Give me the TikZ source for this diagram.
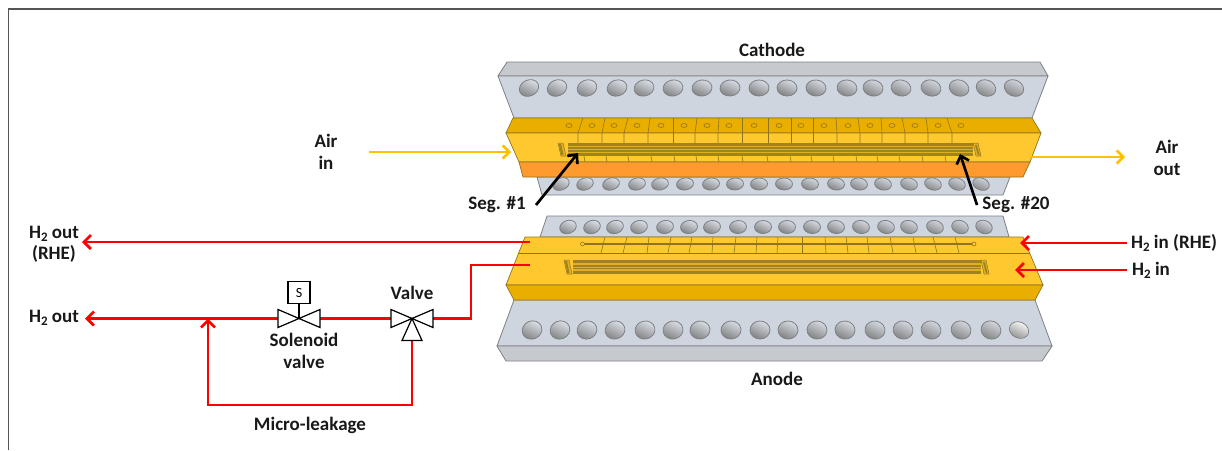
\documentclass[tikz,border=0pt]{standalone}
\usepackage{fontspec}
\setmainfont{Carlito}
\usetikzlibrary{arrows.meta,calc}
\definecolor{grayface}{HTML}{CFD5DF}
\definecolor{graytop}{HTML}{C6C9CE}
\definecolor{grayedge}{HTML}{7E8084}
\definecolor{goldlight}{HTML}{FFC82E}
\definecolor{golddark}{HTML}{EAAE00}
\definecolor{orangeface}{HTML}{FF9A2E}
\definecolor{goldedge}{HTML}{8F7420}
\definecolor{channeldark}{HTML}{A0821F}
\definecolor{channellight}{HTML}{E0B024}
\definecolor{airline}{HTML}{FFC000}
\definecolor{frameline}{HTML}{555555}
\newcommand{\HH}{H{\fontsize{13}{13}\selectfont\raisebox{-3pt}{2}}}
\newcommand{\holerow}[4]{%
  \foreach \hx in {#1} {%
    \pgfmathsetmacro{\hang}{(775-\hx)/10}%
    \shade[left color=grayface!80!white,right color=black!50,shading angle=-25,rotate around={\hang:(\hx,#2)}]
      (\hx,#2) ellipse [x radius=#3,y radius=#4];
    \draw[grayedge,line width=.8pt,rotate around={\hang:(\hx,#2)}]
      (\hx,#2) ellipse [x radius=#3,y radius=#4];
  }}
\newcommand{\channel}[6]{% x0 x1 ytop ybottom, inlet x, outlet x
  \fill[channellight] (#1,#3) rectangle (#2,#4);
  \foreach \yf/\hf in {0/.2,.33/.14,.55/.12,.76/.24} {
    \fill[channeldark] (#1,{#3+\yf*(#4-#3)}) rectangle (#2,{#3+(\yf+\hf)*(#4-#3)});
  }
  \draw[goldedge,line width=.5pt,fill=channellight] (#5,#3) -- (#5+5,#3) -- (#5+8,#4) -- (#5+3,#4) -- cycle;
  \fill[channeldark] (#5+.8,#3+1) -- (#5+3,#3+1) -- (#5+5.5,#4-1) -- (#5+3.3,#4-1) -- cycle;
  \draw[goldedge,line width=.5pt,fill=channellight] (#6,#3) -- (#6+5,#3) -- (#6+8,#4) -- (#6+3,#4) -- cycle;
  \fill[channeldark] (#6+2,#3+2) -- (#6+3.8,#3+2) -- (#6+6.6,#4-1) -- (#6+4.8,#4-1) -- cycle;
}
\tikzset{
  gray block/.style={fill=grayface,draw=grayedge,line width=.8pt,line join=round},
  gray top/.style={fill=graytop,draw=grayedge,line width=.8pt,line join=round},
  gold light/.style={fill=goldlight,draw=goldedge,line width=.7pt,line join=round},
  gold dark/.style={fill=golddark,draw=goldedge,line width=.7pt,line join=round},
  orange side/.style={fill=orangeface,draw=goldedge,line width=.7pt,line join=round},
  divider/.style={draw=goldedge,line width=.6pt},
  port/.style={draw=goldedge,line width=.6pt},
  label/.style={font=\fontsize{19}{22}\bfseries\selectfont,text=black!90,inner sep=0pt,align=center},
  redflow/.style={draw=red,line width=2.8pt,line join=miter},
  redarrow/.style={redflow,-{Straight Barb[length=7pt,width=14pt,line width=2.8pt]}},
  airarrow/.style={draw=airline,line width=2.6pt,-{Straight Barb[length=6.5pt,width=13pt,line width=2.6pt]}},
  blackarrow/.style={draw=black,line width=2.7pt,-{Straight Barb[length=7pt,width=13pt,line width=2.7pt]}},
  valvepart/.style={draw=black,line width=1.2pt,fill=white,line join=miter},
}
\begin{document}
\begin{tikzpicture}[x=1pt,y=-1pt]
\useasboundingbox (0,0) rectangle (1222,450);
\fill[white] (0,0) rectangle (1222,450);
% frame
\draw[frameline,line width=1.4pt] (8.5,450) -- (8.5,9) -- (1222,9);

% ---- cathode gray block
\draw[gray top] (507,62) -- (1040,62) -- (1048,76) -- (498,76) -- cycle;
\draw[gray block] (498,76) -- (1048,76) -- (1032,118) -- (514,118) -- cycle;
\holerow{529,557,587,617,644,673,702,730,759,787,816,847,873,901,931,959,986,1014}{88}{10}{8}
% cathode lower gray
\draw[gray block] (537,177) -- (1010,177) -- (1003,195) -- (542,195) -- cycle;
\holerow{561,585,611,637,660,685,711,735,759,784,810,836,859,883,909,933,957,981}{184}{8.5}{6}
% cathode plate
\draw[gold dark] (513,118) -- (1032,118) -- (1041,133) -- (506,133) -- cycle;
\draw[gold light] (506,133) -- (1041,133) -- (1030,162) -- (519,162) -- cycle;
\draw[orange side] (519,162) -- (1030,162) -- (1023,177) -- (523,177) -- cycle;
\foreach \ta/\tb/\tc in {583/578/585,605/602/607,628/624/629,650/648/652,673/673/675,697/695/697,719/718/719,742/742/743,768/768/768,791/791/791,813/813/812,836/837/834,858/860/857,881/882/878,902/905/900,926/928/923,947/952/946} {
  \draw[divider] (\ta,118) -- (\tb,133) -- (\tb,143);
  \draw[divider] (\tc-1,156) -- (\tc,162);
}
\foreach \cx in {569,592,614,637,661,684,707,729,754,779,801,824,848,870,892,915,938,961} {
  \draw[port] (\cx,125.5) ellipse [x radius=3,y radius=2];
}
\channel{568}{973}{143}{156}{558}{973}

% ---- anode back gray
\draw[gray block] (540,237) -- (547,216) -- (1003,216) -- (1009,237) -- cycle;
\holerow{568,592,615,639,665,689,712,738,763,787,812,836,861,886,909,935,960,984}{227}{8.5}{6.5}
% anode gray block
\draw[gray block] (514,300) -- (1035,300) -- (1052,346) -- (497,346) -- cycle;
\draw[gray top] (497,346) -- (1052,346) -- (1042,361) -- (506,361) -- cycle;
\holerow{532,560,587,615,645,673,700,731,760,788,817,845,875,903,931,961,991}{330}{10}{9}
\shade[left color=white,right color=black!45,shading angle=-25,rotate around={-24:(1019,330)}] (1019,330) ellipse [x radius=10,y radius=8];
\draw[grayedge,line width=.7pt,rotate around={-24:(1019,330)}] (1019,330) ellipse [x radius=10,y radius=8];
% anode plate
\draw[gold light] (525,237) -- (1023,237) -- (1043,285) -- (506,285) -- cycle;
\draw[gold dark] (506,285) -- (1043,285) -- (1035,300) -- (514,300) -- cycle;
\draw[divider] (519,253) -- (1030,253);
\foreach \ta/\tb in {605/601,627/623,649/647,671/668,692/689,713/712,736/734,757/756,778/777,802/802,825/826,846/848,867/869,890/893,913/916,933/937,955/959} {
  \draw[divider] (\ta,237) -- (\tb,253);
}
\draw[divider,line width=1.1pt] (584,244) -- (972,244);
\draw[port,fill=goldlight] (582.5,244) circle [radius=2];
\draw[port,fill=goldlight] (974,244) circle [radius=2];
\channel{573}{981}{260}{274}{564}{981}

% ---- named points
\coordinate (airInStart) at (369,152);
\coordinate (airInEnd) at (511,152);
\coordinate (airOutStart) at (1030,157);
\coordinate (airOutEnd) at (1125,157);
\coordinate (rheOutStart) at (530,242);
\coordinate (rheOutEnd) at (82,242);
\coordinate (anodeOutStart) at (530,265);
\coordinate (h2OutEnd) at (85,318.5);
\coordinate (leakJoin) at (208,318.5);
\coordinate (rheInStart) at (1127,243);
\coordinate (rheInEnd) at (1020,243);
\coordinate (h2InStart) at (1127,270);
\coordinate (h2InEnd) at (1015,270);
\coordinate (seg1Start) at (536,205);
\coordinate (seg1End) at (578,153);
\coordinate (seg20Start) at (977,205);
\coordinate (seg20End) at (960,154);
\coordinate (sv) at (299,318.5);
\coordinate (vv) at (412,318.5);

% ---- red lines
\draw[redflow] (anodeOutStart) -- (471,265) -- (471,318.5) -- ($(vv)+(21,0)$);
\draw[redflow] ($(vv)+(-21,0)$) -- ($(sv)+(21,0)$);
\draw[redarrow] ($(sv)+(-21,0)$) -- (h2OutEnd);
\draw[redarrow] ($(vv)+(0,22)$) -- (412,405) -- (208,405) -- (leakJoin);
\draw[redarrow] (rheOutStart) -- (rheOutEnd);
\draw[redarrow] (rheInStart) -- (rheInEnd);
\draw[redarrow] (h2InStart) -- (h2InEnd);
% ---- other arrows
\draw[airarrow] (airInStart) -- (airInEnd);
\draw[airarrow] (airOutStart) -- (airOutEnd);
\draw[blackarrow] (seg1Start) -- (seg1End);
\draw[blackarrow] (seg20Start) -- (seg20End);

% ---- solenoid valve
\draw[valvepart] (sv) -- ++(-21,-9) -- ++(0,18) -- cycle;
\draw[valvepart] (sv) -- ++(21,-9) -- ++(0,18) -- cycle;
\node[draw=black,line width=1.2pt,minimum width=22pt,minimum height=22pt,inner sep=0pt,font=\fontsize{14}{15}\selectfont,fill=white] (sbox) at (299,292.5) {S};
\draw[black,line width=1.2pt] (sbox.south) -- (sv);
% ---- valve
\draw[valvepart] (vv) -- ++(-21,-9) -- ++(0,18) -- cycle;
\draw[valvepart] (vv) -- ++(21,-9) -- ++(0,18) -- cycle;
\draw[valvepart] (vv) -- ++(-10,22) -- ++(20,0) -- cycle;

% ---- labels
\node[label] (cathode) at (772,50) {Cathode};
\node[label] (anode) at (777,379) {Anode};
\node[label] (airin) at (326,152) {Air\\in};
\node[label] (airout) at (1167,158) {Air\\out};
\node[label] (seg1) at (497,205) {Seg. \#1};
\node[label] (seg20) at (1016,205) {Seg. \#20};
\node[label] (h2rhe) at (54,244) {\HH{} out\\[-1pt](RHE)};
\node[label] (h2out) at (54,318) {\HH{} out};
\node[label] (h2inrhe) at (1174,243) {\HH{} in (RHE)};
\node[label] (h2in) at (1151,270) {\HH{} in};
\node[label] (solenoid) at (304,350.5) {Solenoid\\valve};
\node[label] (valve) at (412,293) {Valve};
\node[label] (leak) at (310,425) {Micro-leakage};
\end{tikzpicture}
\end{document}
